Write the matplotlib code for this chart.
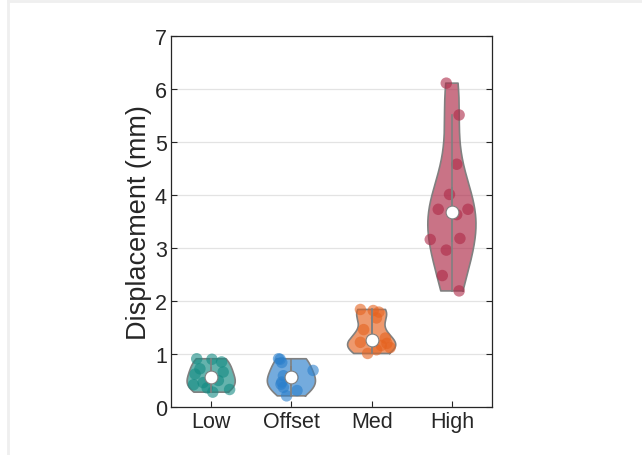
import numpy as np
import matplotlib.pyplot as plt
from matplotlib.lines import Line2D
from matplotlib.patches import Rectangle

plt.rcParams['font.family'] = ['Liberation Sans', 'DejaVu Sans']

groups = ['Low', 'Offset', 'Med', 'High']
colors = ['#128a82', '#2a7fcc', '#e5621f', '#ad2846']

low = [0.91, 0.90, 0.85, 0.72, 0.66, 0.62, 0.50, 0.46, 0.42, 0.36, 0.33, 0.28]
low_jit = [-0.18, 0.01, 0.13, -0.14, 0.15, -0.20, 0.09, -0.10, -0.22, -0.05, 0.23, 0.02]
offset = [0.91, 0.90, 0.84, 0.69, 0.59, 0.56, 0.47, 0.43, 0.37, 0.31, 0.21]
offset_jit = [-0.16, -0.14, -0.12, 0.27, -0.10, 0.02, -0.12, -0.13, -0.10, 0.07, -0.06]
med = [1.84, 1.82, 1.79, 1.68, 1.46, 1.30, 1.22, 1.20, 1.16, 1.12, 1.08, 1.01]
med_jit = [-0.14, 0.02, 0.09, 0.06, -0.10, 0.17, -0.14, 0.19, 0.12, 0.23, 0.06, -0.05]
high = [6.11, 5.51, 4.58, 4.01, 3.73, 3.73, 3.63, 3.18, 3.16, 2.96, 2.48, 2.19]
high_jit = [-0.07, 0.09, 0.06, -0.03, -0.17, 0.20, 0.06, 0.10, -0.27, -0.07, -0.12, 0.09]

data = [low, offset, med, high]
jitter = [low_jit, offset_jit, med_jit, high_jit]


def kde(x, grid):
    # ksdensity-style normal kernel, bandwidth from the median absolute deviation
    x = np.asarray(x)
    n = len(x)
    sig = np.median(np.abs(x - np.median(x))) / 0.6745
    bw = sig * (4 / (3 * n)) ** 0.2
    z = (grid[:, None] - x[None, :]) / bw
    return np.exp(-0.5 * z ** 2).sum(axis=1) / (n * bw * np.sqrt(2 * np.pi))


fig = plt.figure(figsize=(6.42, 4.56), dpi=100)
ax = fig.add_axes([0.2664, 0.1053, 0.5, 0.8136])

width = 0.3
for i, (vals, jit, c) in enumerate(zip(data, jitter, colors)):
    pos = i + 1
    vals = np.asarray(vals)
    y = np.linspace(vals.min(), vals.max(), 200)
    d = kde(vals, y)
    d = d / d.max() * width
    xs = np.concatenate([pos + d, (pos - d)[::-1]])
    ys = np.concatenate([y, y[::-1]])
    ax.fill(xs, ys, facecolor=c, alpha=0.65, edgecolor='none', zorder=2)
    ax.plot(np.append(xs, xs[0]), np.append(ys, ys[0]), color='#808080', lw=1.2, zorder=3)

    ax.scatter(pos + np.asarray(jit), vals, s=68, color=c, alpha=0.6,
               edgecolors='none', zorder=4)

    q1, medv, q3 = np.percentile(vals, [25, 50, 75])
    iqr = q3 - q1
    lo = vals[vals >= q1 - 1.5 * iqr].min()
    hi = vals[vals <= q3 + 1.5 * iqr].max()
    ax.plot([pos, pos], [lo, hi], color='#808080', lw=1.2, zorder=5)
    ax.add_patch(Rectangle((pos - 0.012, q1), 0.024, q3 - q1, facecolor='#808080',
                           edgecolor='none', zorder=5))
    ax.scatter([pos], [medv], s=85, color='white', edgecolors='#808080',
               linewidths=0.8, zorder=6)

ax.set_xlim(0.5, 4.5)
ax.set_ylim(0, 7)
ax.set_xticks(range(1, 5))
ax.set_xticklabels(groups)
ax.set_yticks(range(0, 8))
ax.set_ylabel('Displacement (mm)', fontsize=19.5, color='#262626', labelpad=2)
ax.yaxis.grid(True, color='#e3e3e3', lw=0.9)
ax.set_axisbelow(True)
ax.tick_params(direction='in', length=4, width=0.8, colors='#262626',
               labelsize=15.5, top=False, right=True, pad=3)
for s in ax.spines.values():
    s.set_color('#262626')
    s.set_linewidth(0.9)

# thin grey frame along the top and left edges of the canvas
fig.add_artist(Line2D([8 / 642, 1], [1 - 2 / 456, 1 - 2 / 456], color='#efefef', lw=2,
                      transform=fig.transFigure))
fig.add_artist(Line2D([8 / 642, 8 / 642], [0, 1 - 2 / 456], color='#efefef', lw=2,
                      transform=fig.transFigure))

fig.savefig('out.png', dpi=100)
